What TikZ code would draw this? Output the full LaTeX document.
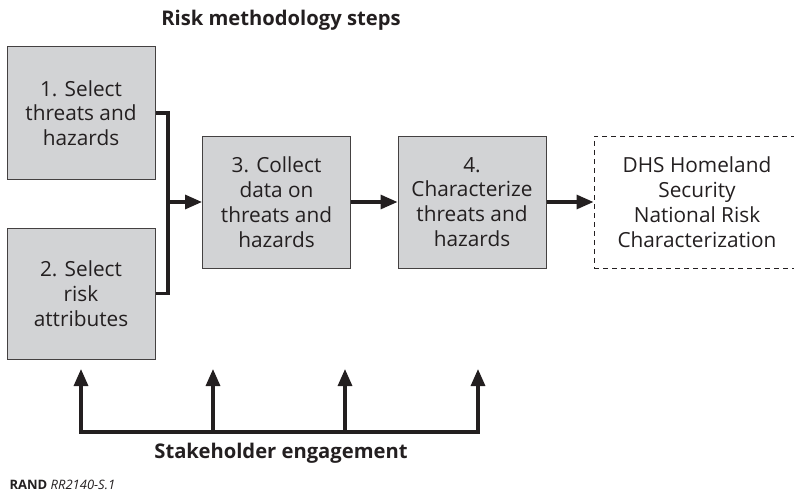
\documentclass[tikz,border=0pt]{standalone}
\usepackage{fontspec}
\setmainfont{Open Sans}
\usetikzlibrary{arrows.meta,positioning}
\definecolor{boxgray}{RGB}{210,211,213}
\definecolor{ink}{RGB}{35,31,32}
\tikzset{
  stepbox/.style={draw=ink!85,line width=1pt,fill=boxgray,minimum width=148pt,minimum height=132pt,
    inner sep=0pt,align=center,text=ink,font=\fontsize{20.8}{24.8}\selectfont},
  outbox/.style={draw=ink,dash pattern=on 5pt off 4pt,line width=1pt,minimum width=206pt,minimum height=132pt,
    inner sep=0pt,align=center,text=ink,font=\fontsize{20.8}{24.8}\selectfont},
  flow/.style={draw=ink,line width=3.2pt,-{Triangle[length=17pt,width=14pt]}},
  link/.style={draw=ink,line width=3.2pt},
}
\begin{document}
\begin{tikzpicture}[x=1pt,y=-1pt]
\useasboundingbox (0,0) rectangle (794,492);
\node[text=ink,font=\bfseries\fontsize{20.2}{22}\selectfont] (title) at (281,20) {Risk methodology steps};

\node[stepbox] (s1) at (81,113) {1. Select\\threats and\\hazards};
\node[stepbox,minimum height=131pt] (s2) at (81,293.5) {2. Select\\risk\\attributes};
\node[stepbox] (s3) at (276.5,202) {3. Collect\\data on\\threats and\\hazards};
\node[stepbox] (s4) at (472,202) {4.\\Characterize\\threats and\\hazards};
\node[outbox] (dhs) at (697,202) {DHS Homeland\\Security\\National Risk\\Characterization};

% steps 1 and 2 join into step 3
\coordinate (j) at (168,202);
\draw[link] (s1.east) -| (j) |- (s2.east);
\draw[flow] (j) -- (s3.west);
\draw[flow] (s3) -- (s4);
\draw[flow] (s4) -- (dhs);

% stakeholder engagement
\foreach \i/\x in {1/81,2/213,3/345,4/478}{
  \coordinate (b\i) at (\x,432);
  \coordinate (t\i) at (\x,369);
}
\draw[link,{Triangle[length=17pt,width=14pt]}-{Triangle[length=17pt,width=14pt]}] (t1) -- (b1) -- (b4) -- (t4);
\draw[flow] (b2) -- (t2);
\draw[flow] (b3) -- (t3);
\node[text=ink,font=\bfseries\fontsize{20.2}{22}\selectfont] (stake) at (281,453) {Stakeholder engagement};

\node[anchor=west,text=ink,font=\fontsize{13}{15}\selectfont] (src) at (6,485) {\textbf{RAND} \textit{RR2140-S.1}};
\end{tikzpicture}
\end{document}
